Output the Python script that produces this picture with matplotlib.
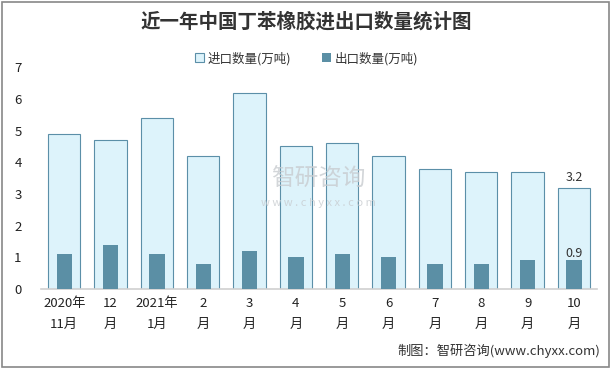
import matplotlib.pyplot as plt
from matplotlib.patches import Rectangle

plt.rcParams['font.family'] = ['Noto Sans CJK SC', 'DejaVu Sans']

months = ['2020年\n11月', '12\n月', '2021年\n1月', '2\n月', '3\n月', '4\n月',
          '5\n月', '6\n月', '7\n月', '8\n月', '9\n月', '10\n月']
imports = [4.9, 4.7, 5.4, 4.2, 6.2, 4.5, 4.6, 4.2, 3.8, 3.7, 3.7, 3.2]
exports = [1.1, 1.4, 1.1, 0.8, 1.2, 1.0, 1.1, 1.0, 0.8, 0.8, 0.9, 0.9]

fig = plt.figure(figsize=(6.13, 3.69), dpi=100)
ax = fig.add_axes([0.067, 0.217, 0.907, 0.601])

x = range(len(months))
ax.bar(x, imports, width=0.7, color='#DDF3FB', edgecolor='#5B8FA8', linewidth=0.8,
       label='进口数量(万吨)', zorder=2)
ax.bar(x, exports, width=0.33, color='#5B8FA5', label='出口数量(万吨)', zorder=3)

# labels on the last month only
ax.text(11, imports[-1] + 0.12, '%.1f' % imports[-1], ha='center', va='bottom', fontsize=9, color='#333333')
ax.text(11, exports[-1] + 0.02, '%.1f' % exports[-1], ha='center', va='bottom', fontsize=9, color='#333333')

ax.set_xlim(-0.5, 11.5)
ax.set_ylim(0, 7)
ax.set_yticks(range(8))
ax.set_xticks(list(x))
ax.set_xticklabels(months, fontsize=9.5, linespacing=1.75)
ax.tick_params(axis='both', length=0, labelsize=9.5, colors='#222222')
ax.tick_params(axis='x', pad=6)
ax.tick_params(axis='y', pad=14)
for s in ['top', 'right', 'left']:
    ax.spines[s].set_visible(False)
ax.spines['bottom'].set_color('#D0D0D0')
ax.spines['bottom'].set_linewidth(1.2)

fig.text(0.5, 0.94, '近一年中国丁苯橡胶进出口数量统计图', ha='center', va='center',
         fontsize=14, fontweight='bold', color='#333333')
fig.legend(loc='center', bbox_to_anchor=(0.5, 0.842), ncol=2, frameon=False,
           fontsize=9, handlelength=0.7, handleheight=0.7, columnspacing=2.5,
           handletextpad=0.3, labelcolor='#333333')

# watermark
fig.text(0.52, 0.515, '智研咨询', ha='center', va='center', fontsize=17, color='#C8CCD0', alpha=0.8)
fig.text(0.52, 0.45, 'w w w . c h y x x . c o m', ha='center', va='center', fontsize=8, color='#C8CCD0', alpha=0.8)

fig.text(0.98, 0.05, '制图：智研咨询(www.chyxx.com)', ha='right', va='center', fontsize=9.5, color='#333333')

fig.patches.append(Rectangle((0.004, 0.006), 0.99, 0.988, transform=fig.transFigure,
                             fill=False, edgecolor='#888888', linewidth=1.2))

fig.savefig('out.png', dpi=100)
